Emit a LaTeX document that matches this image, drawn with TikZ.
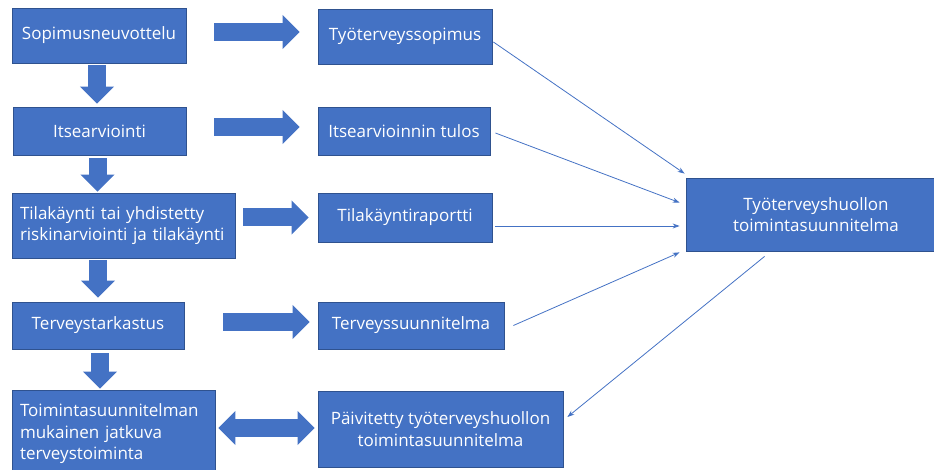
\documentclass[tikz,border=0pt]{standalone}
\usepackage{fontspec}
\setmainfont{Open Sans}
\usepackage{tikz}
\usetikzlibrary{arrows.meta}

\definecolor{boxblue}{HTML}{4472C4}
\definecolor{edgeblue}{HTML}{2F528F}

\begin{document}
\begin{tikzpicture}[x=1pt,y=-1pt,
    box/.style={rectangle,draw=edgeblue,line width=0.8pt,fill=boxblue,text=white,
        inner sep=0pt,align=center,font=\fontsize{17}{21.5}\selectfont},
    fat/.style={line width=18pt,draw=boxblue,-{Triangle[width=33pt,length=17pt]}},
    fatboth/.style={line width=18pt,draw=boxblue,{Triangle[width=33pt,length=17pt]}-{Triangle[width=33pt,length=17pt]}},
    thin/.style={draw=boxblue,line width=0.8pt,-{Stealth[length=7pt,width=5pt]}}]

        \useasboundingbox (0,0) rectangle (934,470);
        \clip (0,0) rectangle (934,470);

        % left column
        \node[box,minimum width=174pt,minimum height=55pt] (sop) at (99,35.5) {Sopimusneuvottelu};
        \node[box,minimum width=173pt,minimum height=48pt] (its) at (99.5,131) {Itsearviointi};
        \node[box,minimum width=223pt,minimum height=65pt,text width=207pt,align=left] (tila) at (123.5,225.5) {Tilakäynti tai yhdistetty\\riskinarviointi ja tilakäynti};
        \node[box,minimum width=172pt,minimum height=47pt] (tark) at (98,325.5) {Terveystarkastus};
        \node[box,minimum width=203pt,minimum height=88pt,text width=187pt,align=left] (toim) at (113.5,434) {Toimintasuunnitelman\\mukainen jatkuva\\terveystoiminta};

        % middle column
        \node[box,minimum width=174pt,minimum height=55pt] (tsop) at (405,36.5) {Työterveyssopimus};
        \node[box,minimum width=172pt,minimum height=48pt] (itul) at (404,131) {Itsearvioinnin tulos};
        \node[box,minimum width=174pt,minimum height=49pt] (trap) at (405,217.5) {Tilakäyntiraportti};
        \node[box,minimum width=186pt,minimum height=47pt] (tsuun) at (411,325.5) {Terveyssuunnitelma};
        \node[box,minimum width=245pt,minimum height=76pt] (paiv) at (440.5,429) {Päivitetty työterveyshuollon\\toimintasuunnitelma};

        % right
        \node[box,minimum width=260pt,minimum height=73pt] (tth) at (816,214.5) {Työterveyshuollon\\toimintasuunnitelma};

        % block arrows down
        \draw[fat,shorten <=2pt,shorten >=3pt] ([xshift=-2pt]sop.south) -- ([xshift=-2pt]sop.south |- its.north);
        \draw[fat,shorten <=3pt,shorten >=1pt] ([xshift=-2pt]its.south) -- ([xshift=-2pt]its.south |- tila.north);
        \draw[fat,shorten <=2pt,shorten >=4pt] (tila.south -| tark.south) -- (tark.north);
        \draw[fat,shorten <=4pt,shorten >=1pt] ([xshift=2pt]tark.south) -- ([xshift=2pt]tark.south |- toim.north);

        % block arrows right
        \draw[fat,shorten <=28pt,shorten >=18pt] ([yshift=3.5pt]sop.east) -- ([yshift=3.5pt]sop.east -| tsop.west);
        \draw[fat,shorten <=28pt,shorten >=18pt] ([yshift=4pt]its.east) -- ([yshift=4pt]its.east -| itul.west);
        \draw[fat,shorten <=8pt,shorten >=9pt] (trap.west -| tila.east) -- (trap.west);
        \draw[fat,shorten <=39pt,shorten >=8pt] ([yshift=3.5pt]tark.east) -- ([yshift=3.5pt]tark.east -| tsuun.west);
        \draw[fatboth,shorten <=3pt,shorten >=3pt] ([yshift=6pt]toim.east) -- ([yshift=6pt]toim.east -| paiv.west);

        % thin arrows to the plan
        \path
        ([xshift=1pt,yshift=-5.5pt]tsop.east) edge[thin] ([xshift=-1pt,yshift=4pt]tth.north west)
        ([xshift=5pt,yshift=-2pt]itul.east) edge[thin] ([xshift=-6pt,yshift=-25pt]tth.north west)
        ([xshift=3pt,yshift=-8.5pt]trap.east) edge[thin] ([xshift=-6pt,yshift=-11.5pt]tth.west)
        ([xshift=9pt]tsuun.east) edge[thin] ([xshift=-6pt,yshift=-1pt]tth.south west)
        ([xshift=79pt,yshift=-5pt]tth.south west) edge[thin] ([xshift=4pt,yshift=12pt]paiv.east);
    \end{tikzpicture}
\end{document}
